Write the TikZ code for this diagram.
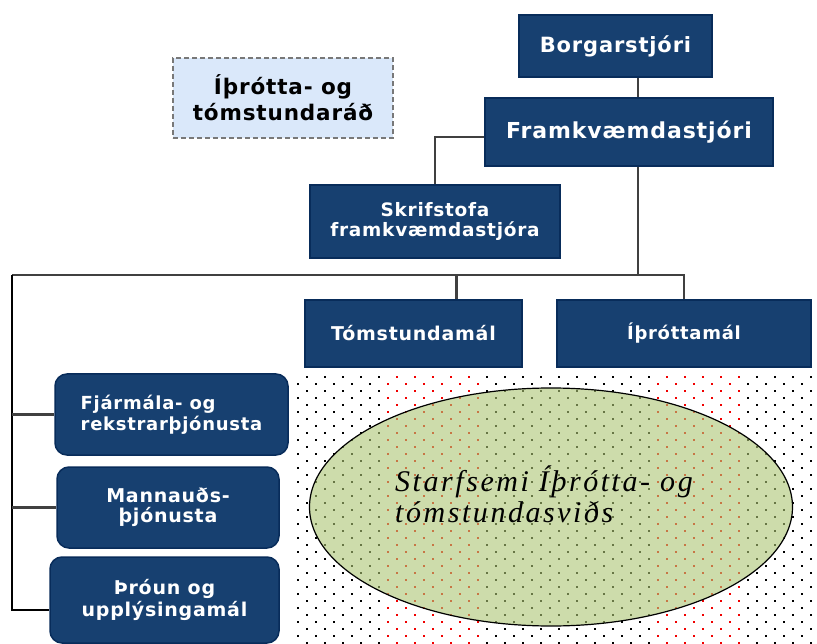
\documentclass[tikz,border=0pt]{standalone}
\usepackage{fontspec}
\setmainfont{DejaVu Sans}
\newfontfamily\boxfont[LetterSpace=4]{DejaVu Sans}
\newfontfamily\ellfont[LetterSpace=8.5]{Liberation Serif}
\usetikzlibrary{shapes.geometric}

\definecolor{boxblue}{RGB}{23,64,112}
\definecolor{boxedge}{RGB}{8,44,90}
\definecolor{linegray}{RGB}{64,64,64}
\definecolor{councilfill}{RGB}{218,232,250}
\definecolor{councildash}{RGB}{120,120,120}
\definecolor{activity}{RGB}{172,197,115}
\definecolor{dotred}{RGB}{240,0,0}

% dotted field behind the ellipse, #1 plain dots, #2 red columns
\newcommand\dotfield[2]{%
  \foreach \y [count=\r] in {376,383,...,642}{%
    \foreach \c in {0,...,28}{%
      \pgfmathsetmacro\xx{297+18*\c+9*mod(\r,2)}%
      \pgfmathtruncatemacro\redcol{((\xx>380)&&(\xx<480))||((\xx>650)&&(\xx<740))}%
      \ifnum\redcol=1 \def\dotcol{#2}\else\def\dotcol{#1}\fi
      \fill[\dotcol] (\xx,\y) rectangle ++(1.7,1.7);}}}

\begin{document}
\begin{tikzpicture}[x=1pt, y=-1pt,
  orgbox/.style={draw=boxedge, fill=boxblue, line width=1.5pt, text=white, align=center, inner sep=0pt},
  unitbox/.style={orgbox, rounded corners=12pt},
  council/.style={draw=councildash, fill=councilfill, dash pattern=on 5pt off 3pt, line width=2pt, align=center, inner sep=0pt},
  txt/.style 2 args={font=\boxfont\bfseries\fontsize{#1}{#2}\selectfont},
  link/.style={draw=linegray, line width=2.5pt}]
\path[use as bounding box, fill=white] (0,0) rectangle (817,644);

% top of the chart
\node[orgbox, minimum width=193pt, minimum height=62pt, txt={21}{24}] (borg) at (615.5,46) {Borgarstjóri};
\node[orgbox, minimum width=288pt, minimum height=68pt, txt={22}{24}] (fram) at (629,132) {Framkvæmdastjóri};
\node[orgbox, minimum width=250pt, minimum height=73pt, txt={18.5}{20.5}] (skrif) at (435,221.5) {Skrifstofa\\framkvæmdastjóra};
\node[council, minimum width=220pt, minimum height=80pt, txt={21.5}{26}] (radid) at (283,98) {Íþrótta- og\\tómstundaráð};

% fields
\node[orgbox, minimum width=217pt, minimum height=67pt, txt={19}{20}] (toms) at (413.5,333.5) {Tómstundamál};
\node[orgbox, minimum width=254pt, minimum height=67pt, txt={18}{20}] (ithr) at (684,333.5) {Íþróttamál};

% support units
\node[unitbox, minimum width=233pt, minimum height=81pt, txt={18}{21}, align=left] (fjar) at (171.5,414.5) {Fjármála- og\\rekstrarþjónusta};
\node[unitbox, minimum width=222pt, minimum height=81pt, txt={19}{20.5}] (mann) at (168,507.5) {Mannauðs-\\þjónusta};
\node[unitbox, minimum width=229pt, minimum height=86pt, txt={19}{22}] (thro) at (164.5,600) {Þróun og\\upplýsingamál};

% connectors
\coordinate (spine) at (638,275);
\coordinate (busl) at (12,275);
\draw[link] (borg.south -| spine) -- (fram.north -| spine);
\draw[link] ([yshift=-5pt]fram.west) -| (skrif);
\draw[link] (fram.south -| spine) -- (spine);
\draw[link] (ithr.north) |- (busl);
\draw[link] ([xshift=43pt]toms.north) -- ([xshift=43pt]toms.north |- busl);
\draw[link, draw=black] (busl) |- ([yshift=-10pt]thro.west);
\draw[link] (busl |- fjar.west) -- (fjar.west);
\draw[link] (busl |- mann.west) -- (mann.west);

% activities, dots show through the ellipse
\dotfield{black}{dotred}
\node[ellipse, draw=black, line width=1.2pt, fill=activity, fill opacity=0.6, minimum width=483pt, minimum height=238pt, inner sep=0pt] (starf) at (551,507) {};
\node[font=\ellfont\itshape\fontsize{30}{31}\selectfont, align=left] (starftxt) at (544,494) {Starfsemi Íþrótta- og\\tómstundasviðs};
\end{tikzpicture}
\end{document}
